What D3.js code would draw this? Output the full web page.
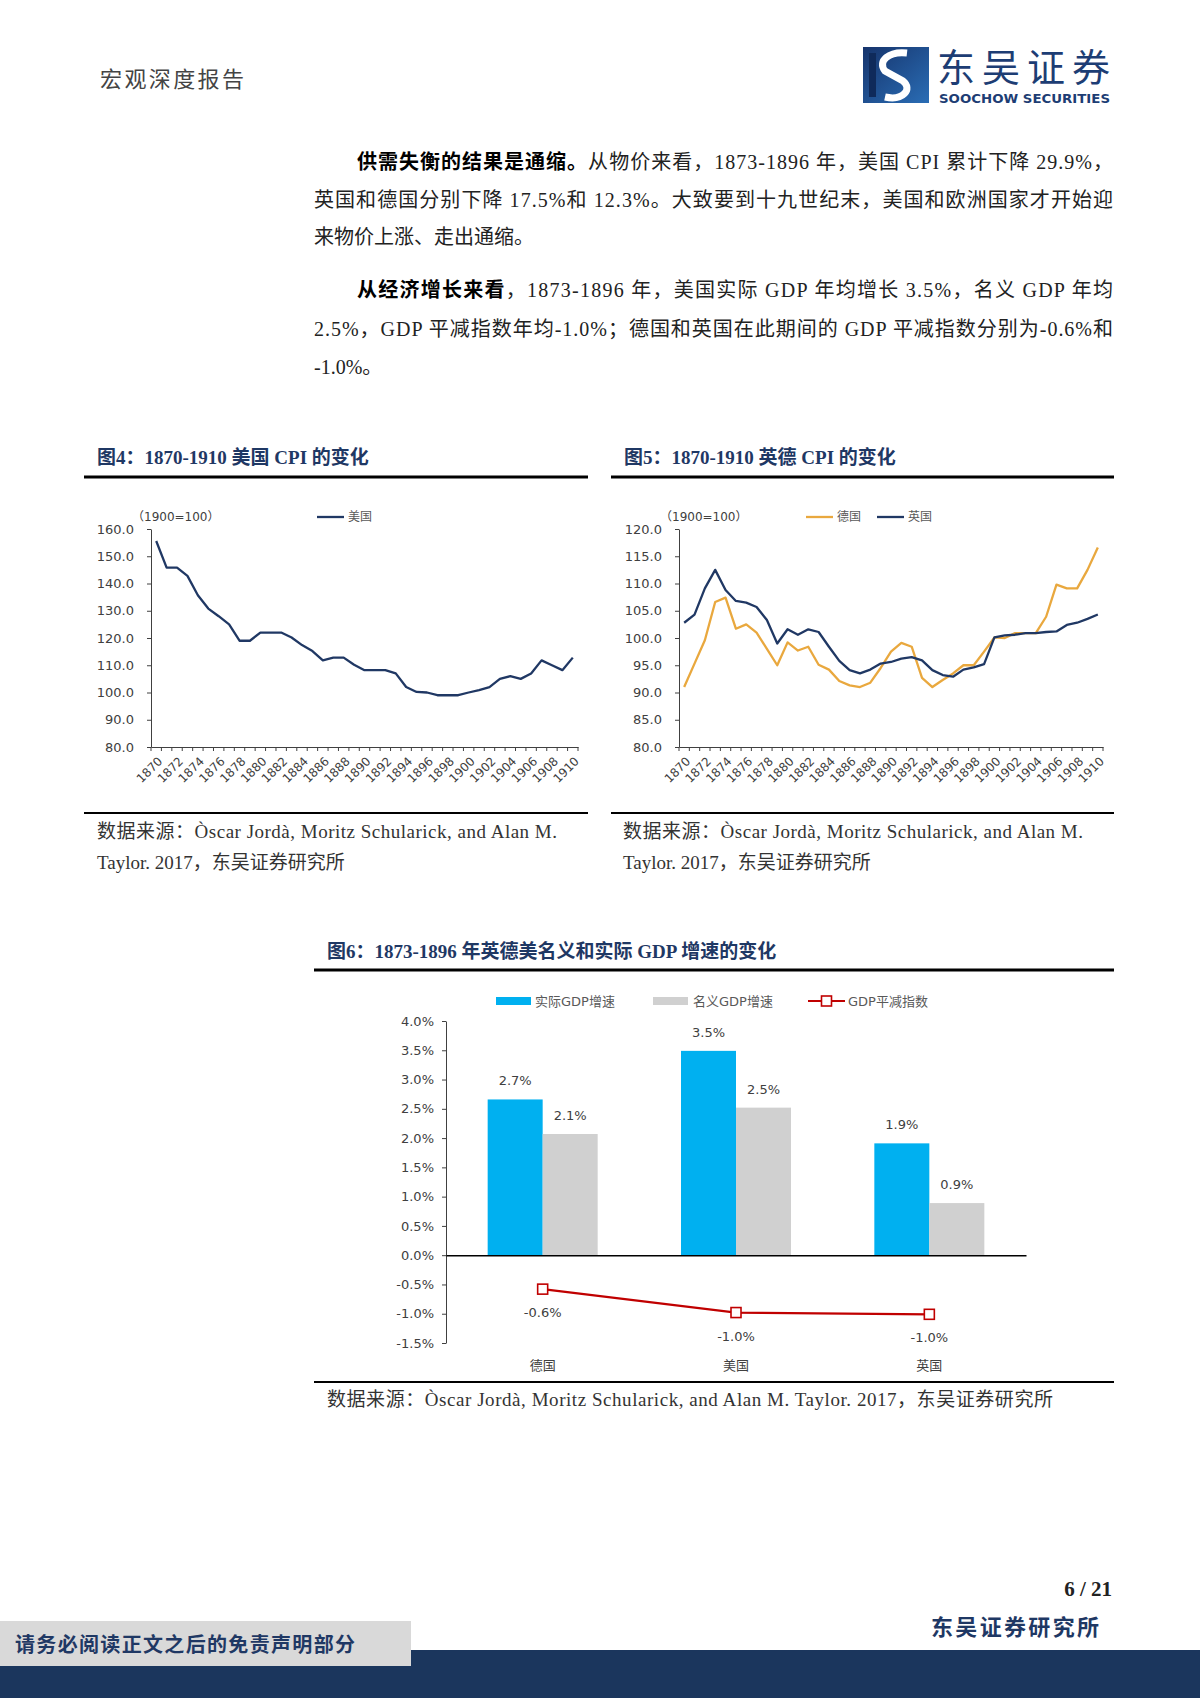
<!DOCTYPE html>
<html>
<head>
<meta charset="utf-8">
<script src="https://cdn.jsdelivr.net/npm/d3@7"></script>
<style>
  body { margin: 0; background: #fff; }
  svg { display: block; }
</style>
</head>
<body>
<div id="page"></div>
<script>
// ---- data ----
const years = [1870, 1871, 1872, 1873, 1874, 1875, 1876, 1877, 1878, 1879,
  1880, 1881, 1882, 1883, 1884, 1885, 1886, 1887, 1888, 1889,
  1890, 1891, 1892, 1893, 1894, 1895, 1896, 1897, 1898, 1899,
  1900, 1901, 1902, 1903, 1904, 1905, 1906, 1907, 1908, 1909, 1910];

// 图4 美国 CPI (1900=100)
const usCpi = [155.6, 145.8, 145.8, 142.8, 135.7, 130.8, 128, 125, 119, 119,
  122, 122, 122, 120.2, 117.4, 115.2, 111.8, 112.8, 112.8, 110.2,
  108.2, 108.2, 108.2, 107, 102, 100.2, 100, 99, 99, 99,
  100, 100.9, 102, 105, 106, 105, 107, 111.8, 110, 108.2, 112.8];

// 图5 德国 / 英国 CPI (1900=100)
const deCpi = [91, 95.3, 99.6, 106.6, 107.4, 101.7, 102.5, 101, 98, 95,
  99.2, 97.7, 98.4, 95.1, 94.2, 92.1, 91.3, 91, 91.8, 94.5,
  97.5, 99.1, 98.4, 92.7, 91, 92.3, 93.5, 95, 95, 97.5,
  100.1, 100, 100.9, 100.9, 100.9, 103.9, 109.8, 109.1, 109.1, 112.5, 116.6];
const ukCpi = [102.8, 104.3, 109.1, 112.5, 108.8, 106.8, 106.5, 105.7, 103.3, 99,
  101.6, 100.6, 101.6, 101.1, 98.4, 95.8, 94.1, 93.5, 94.2, 95.3,
  95.6, 96.2, 96.5, 95.9, 94.1, 93.2, 92.9, 94.2, 94.6, 95.2,
  100.1, 100.5, 100.6, 100.9, 100.9, 101.1, 101.2, 102.4, 102.8, 103.5, 104.3];

const cpi4Ticks = [80, 90, 100, 110, 120, 130, 140, 150, 160];
const cpi5Ticks = [80, 85, 90, 95, 100, 105, 110, 115, 120];

// 图6 1873-1896 GDP
const countries = ['德国', '美国', '英国'];
const realGdp = [2.66, 3.49, 1.91];
const nominalGdp = [2.07, 2.52, 0.89];
const deflator = [-0.58, -0.98, -1.01];
const gdpTicks = [-1.5, -1.0, -0.5, 0, 0.5, 1.0, 1.5, 2.0, 2.5, 3.0, 3.5, 4.0];

// ---- styles ----
const SERIF = '"Liberation Serif", "Noto Sans CJK SC", serif';
const SANS = '"DejaVu Sans", "Noto Sans CJK SC", sans-serif';
const NAVY = '#1F3864';
const AX = '#404040';
const TXT = '#404040';
const BLUE = '#00B0F0';
const GREY = '#D0D0D0';
const RED = '#C00000';
const ORANGE = '#E9A83E';
const LINE_NAVY = '#203864';

const svg = d3.select('#page').append('svg')
  .attr('width', 1200).attr('height', 1698)
  .style('font-family', SERIF);

function txt(x, y, s, size, opts) {
  opts = opts || {};
  const t = svg.append('text')
    .attr('x', x).attr('y', y)
    .attr('fill', opts.fill || '#222')
    .style('font-size', size + 'px')
    .style('font-weight', opts.bold ? 700 : 400)
    .attr('text-anchor', opts.anchor || 'start')
    .style('font-family', opts.family || SERIF);
  if (opts.len) t.attr('textLength', opts.len).attr('lengthAdjust', opts.adjust || 'spacing');
  if (opts.boldPart) {
    t.append('tspan').style('font-weight', 700).attr('fill', '#000').text(opts.boldPart);
    t.append('tspan').text(s);
  } else {
    t.text(s);
  }
  return t;
}

// ---- header ----
txt(100, 87, '宏观深度报告', 22, { fill: '#444', len: 144 });

const logo = svg.append('g').attr('transform', 'translate(863,47)');
const grad = svg.append('defs').append('linearGradient').attr('id', 'lg')
  .attr('x1', 0).attr('y1', 0).attr('x2', 1).attr('y2', 1);
grad.append('stop').attr('offset', 0).attr('stop-color', '#16346C');
grad.append('stop').attr('offset', 1).attr('stop-color', '#2A6DB5');
logo.append('rect').attr('width', 66).attr('height', 56).attr('fill', 'url(#lg)');
logo.append('path')
  .attr('d', 'M44 6 C 26 4, 14 14, 22 24 L 40 34 C 50 42, 40 54, 22 50')
  .attr('fill', 'none').attr('stroke', '#fff').attr('stroke-width', 7);
logo.append('rect').attr('x', 6).attr('y', 6).attr('width', 7).attr('height', 44).attr('fill', '#0F2A5A');
txt(937, 81, '东吴证券', 38, { fill: '#1D3D74', len: 173, family: '"Noto Sans CJK SC", sans-serif' });
txt(939, 103, 'SOOCHOW SECURITIES', 12.5, { fill: '#1D3D74', bold: true, len: 171, adjust: 'spacingAndGlyphs', family: '"DejaVu Sans", sans-serif' });

// ---- body text ----
const BODY = 20;
txt(357, 169, '从物价来看，1873-1896 年，美国 CPI 累计下降 29.9%，', BODY, { boldPart: '供需失衡的结果是通缩。', len: 756 });
txt(314, 207, '英国和德国分别下降 17.5%和 12.3%。大致要到十九世纪末，美国和欧洲国家才开始迎', BODY, { len: 799 });
txt(314, 244, '来物价上涨、走出通缩。', BODY);
txt(357, 297, '，1873-1896 年，美国实际 GDP 年均增长 3.5%，名义 GDP 年均', BODY, { boldPart: '从经济增长来看', len: 756 });
txt(314, 336, '2.5%，GDP 平减指数年均-1.0%；德国和英国在此期间的 GDP 平减指数分别为-0.6%和', BODY, { len: 799 });
txt(314, 374, '-1.0%。', BODY);

// ---- chart titles / rules / sources ----
function rule(x1, x2, y, w) {
  svg.append('line').attr('x1', x1).attr('x2', x2).attr('y1', y).attr('y2', y)
    .attr('stroke', '#000').attr('stroke-width', w);
}
txt(97, 464, '图4：1870-1910 美国 CPI 的变化', 19, { fill: NAVY, bold: true });
txt(624, 464, '图5：1870-1910 英德 CPI 的变化', 19, { fill: NAVY, bold: true });
rule(84, 588, 477, 3);
rule(611, 1114, 477, 3);
rule(84, 588, 813, 2);
rule(611, 1114, 813, 2);
[97, 623].forEach(x => {
  txt(x, 838, '数据来源：Òscar Jordà, Moritz Schularick, and Alan M.', 19, { fill: '#333', len: 460 });
  txt(x, 869, 'Taylor. 2017，东吴证券研究所', 19, { fill: '#333' });
});

// ---- line charts ----
function lineChart(cfg) {
  const g = svg.append('g');
  const x = d3.scaleBand().domain(years).range([cfg.x0, cfg.x1]);
  const y = d3.scaleLinear().domain(cfg.yDomain).range([747, 529]);
  const y0 = y(cfg.yDomain[0]);

  const ya = g.append('g').attr('transform', `translate(${cfg.x0},0)`)
    .call(d3.axisLeft(y).tickValues(cfg.ticks).tickSize(4).tickSizeOuter(0)
      .tickFormat(d => d.toFixed(1)));
  ya.select('.domain').attr('stroke', AX);
  ya.selectAll('.tick line').attr('stroke', AX);
  ya.selectAll('text').attr('fill', TXT).attr('x', -17)
    .style('font-family', SANS).style('font-size', '13px');

  const xa = g.append('g').attr('transform', `translate(0,${y0})`)
    .call(d3.axisBottom(x).tickValues(years.filter((d, i) => i % 2 === 0))
      .tickSize(0).tickSizeOuter(0));
  xa.select('.domain').attr('stroke', AX);
  xa.selectAll('text').attr('fill', TXT).attr('x', 0).attr('y', 0).attr('dy', '0.35em')
    .attr('text-anchor', 'end').attr('transform', 'translate(4,12) rotate(-45)')
    .style('font-family', SANS).style('font-size', '12px');
  g.selectAll('.bt').data(years.concat([null])).join('line')
    .attr('x1', (d, i) => cfg.x0 + i * x.step()).attr('x2', (d, i) => cfg.x0 + i * x.step())
    .attr('y1', y0).attr('y2', y0 + 4).attr('stroke', AX);

  const line = d3.line()
    .x((d, i) => x(years[i]) + x.bandwidth() / 2)
    .y(d => y(d));
  cfg.series.forEach(s => {
    g.append('path').datum(s.values).attr('d', line)
      .attr('fill', 'none').attr('stroke', s.color).attr('stroke-width', 2.3)
      .attr('stroke-linejoin', 'round');
  });

  g.append('text').attr('x', cfg.unitX).attr('y', 521).text('（1900=100）')
    .attr('fill', TXT).style('font-family', SANS).style('font-size', '12px');
  cfg.series.forEach(s => {
    g.append('line').attr('x1', s.lx).attr('x2', s.lx + 27).attr('y1', 517).attr('y2', 517)
      .attr('stroke', s.color).attr('stroke-width', 2.3);
    g.append('text').attr('x', s.lx + 31).attr('y', 521).text(s.name)
      .attr('fill', '#595959').style('font-family', SANS).style('font-size', '12px');
  });
}

lineChart({
  x0: 151, x1: 578, yDomain: [80, 160], ticks: cpi4Ticks, unitX: 132,
  series: [{ name: '美国', values: usCpi, color: LINE_NAVY, lx: 317 }]
});
lineChart({
  x0: 679, x1: 1103, yDomain: [80, 120], ticks: cpi5Ticks, unitX: 660,
  series: [
    { name: '德国', values: deCpi, color: ORANGE, lx: 806 },
    { name: '英国', values: ukCpi, color: LINE_NAVY, lx: 877 }
  ]
});

// ---- chart 6 ----
txt(327, 958, '图6：1873-1896 年英德美名义和实际 GDP 增速的变化', 19, { fill: NAVY, bold: true });
rule(314, 1114, 970, 3);
rule(314, 1114, 1382, 2);
txt(327, 1406, '数据来源：Òscar Jordà, Moritz Schularick, and Alan M. Taylor. 2017，东吴证券研究所', 19, { fill: '#333', len: 726 });

(function () {
  const g = svg.append('g');
  const x = d3.scaleBand().domain(countries).range([446, 1026]);
  const y = d3.scaleLinear().domain([-1.5, 4.0]).range([1343, 1021]);
  const bw = 55;
  const cx = c => x(c) + x.bandwidth() / 2;
  const pct = v => v.toFixed(1) + '%';

  const ya = g.append('g').attr('transform', 'translate(446,0)')
    .call(d3.axisLeft(y).tickValues(gdpTicks).tickSize(4).tickSizeOuter(0).tickFormat(pct));
  ya.select('.domain').attr('stroke', AX);
  ya.selectAll('.tick line').attr('stroke', AX);
  ya.selectAll('text').attr('fill', TXT).attr('x', -12)
    .style('font-family', SANS).style('font-size', '13px');

  g.selectAll('.real').data(realGdp).join('rect')
    .attr('x', (d, i) => cx(countries[i]) - bw).attr('width', bw)
    .attr('y', d => y(d)).attr('height', d => y(0) - y(d)).attr('fill', BLUE);
  g.selectAll('.nom').data(nominalGdp).join('rect')
    .attr('x', (d, i) => cx(countries[i])).attr('width', bw)
    .attr('y', d => y(d)).attr('height', d => y(0) - y(d)).attr('fill', GREY);

  const xa = g.append('g').attr('transform', `translate(0,${y(0)})`)
    .call(d3.axisBottom(x).tickSize(0).tickSizeOuter(0).tickFormat(''));
  xa.select('.domain').attr('stroke', '#000').attr('stroke-width', 1.5);
  g.selectAll('.cat').data(countries).join('text')
    .attr('x', d => cx(d)).attr('y', 1370).attr('text-anchor', 'middle').text(d => d)
    .attr('fill', TXT).style('font-family', SANS).style('font-size', '13px');

  g.selectAll('.rl').data(realGdp).join('text')
    .attr('x', (d, i) => cx(countries[i]) - bw / 2).attr('y', d => y(d) - 14)
    .attr('text-anchor', 'middle').text(pct)
    .attr('fill', TXT).style('font-family', SANS).style('font-size', '13px');
  g.selectAll('.nl').data(nominalGdp).join('text')
    .attr('x', (d, i) => cx(countries[i]) + bw / 2).attr('y', d => y(d) - 14)
    .attr('text-anchor', 'middle').text(pct)
    .attr('fill', TXT).style('font-family', SANS).style('font-size', '13px');

  const line = d3.line().x((d, i) => cx(countries[i])).y(d => y(d));
  g.append('path').datum(deflator).attr('d', line)
    .attr('fill', 'none').attr('stroke', RED).attr('stroke-width', 2.2);
  g.selectAll('.mk').data(deflator).join('rect')
    .attr('x', (d, i) => cx(countries[i]) - 5).attr('y', d => y(d) - 5)
    .attr('width', 10).attr('height', 10)
    .attr('fill', '#fff').attr('stroke', RED).attr('stroke-width', 1.6);
  g.selectAll('.dl').data(deflator).join('text')
    .attr('x', (d, i) => cx(countries[i])).attr('y', d => y(d) + 28)
    .attr('text-anchor', 'middle').text(pct)
    .attr('fill', TXT).style('font-family', SANS).style('font-size', '13px');

  // legend
  const ly = 1001;
  g.append('rect').attr('x', 496).attr('y', ly - 4).attr('width', 35).attr('height', 8).attr('fill', BLUE);
  g.append('text').attr('x', 535).attr('y', ly + 5).text('实际GDP增速')
    .attr('fill', '#595959').style('font-family', SANS).style('font-size', '13px');
  g.append('rect').attr('x', 653).attr('y', ly - 4).attr('width', 35).attr('height', 8).attr('fill', GREY);
  g.append('text').attr('x', 693).attr('y', ly + 5).text('名义GDP增速')
    .attr('fill', '#595959').style('font-family', SANS).style('font-size', '13px');
  g.append('line').attr('x1', 808).attr('x2', 845).attr('y1', ly).attr('y2', ly)
    .attr('stroke', RED).attr('stroke-width', 2.2);
  g.append('rect').attr('x', 821.5).attr('y', ly - 5).attr('width', 10).attr('height', 10)
    .attr('fill', '#fff').attr('stroke', RED).attr('stroke-width', 1.6);
  g.append('text').attr('x', 848).attr('y', ly + 5).text('GDP平减指数')
    .attr('fill', '#595959').style('font-family', SANS).style('font-size', '13px');
})();

// ---- footer ----
txt(1112, 1596, '6 / 21', 21, { bold: true, anchor: 'end', fill: '#222' });
txt(931, 1635, '东吴证券研究所', 22, { bold: true, fill: NAVY, len: 168 });
svg.append('rect').attr('x', 0).attr('y', 1650).attr('width', 1200).attr('height', 48).attr('fill', '#1B365D');
svg.append('rect').attr('x', 0).attr('y', 1621).attr('width', 411).attr('height', 45).attr('fill', '#D9D9D9');
txt(15, 1652, '请务必阅读正文之后的免责声明部分', 20, { bold: true, fill: NAVY, len: 340 });
</script>
</body>
</html>
